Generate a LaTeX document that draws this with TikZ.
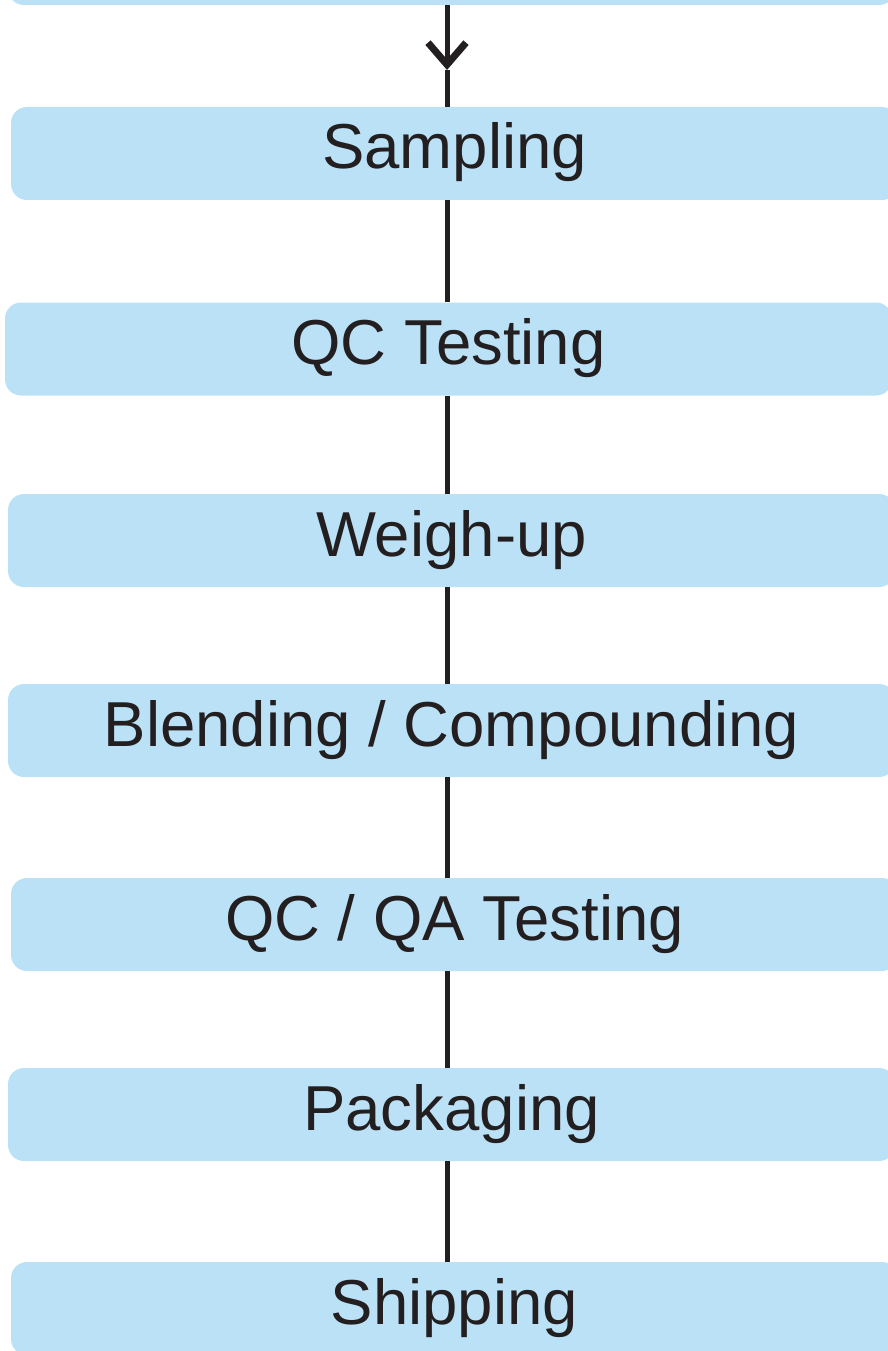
\documentclass[tikz,border=0pt]{standalone}
\usepackage{fontspec}
\setmainfont{Liberation Sans}
\usepackage{xcolor}
\usepackage{tikz}
\usetikzlibrary{arrows.meta}
\definecolor{boxblue}{RGB}{187,225,247}
\definecolor{lineblack}{RGB}{35,31,32}

\begin{document}
\begin{tikzpicture}[x=1pt, y=-1pt,
        stepbox/.style={rectangle, rounded corners=16pt, fill=boxblue, minimum width=887pt, minimum height=93pt, inner sep=0pt, text=lineblack, font=\fontsize{63.5}{63.5}\selectfont, text height=31pt, text depth=0pt},
        flow/.style={draw=lineblack, line width=5pt}]
        \useasboundingbox (0,0) rectangle (888,1351);

        % Define the nodes
        \node[stepbox] (top) at (451.5,-41.5) {};
        \node[stepbox] (sampling) at (454.5,153.5) {Sampling};
        \node[stepbox] (qctest) at (448.5,349) {QC Testing};
        \node[stepbox] (weighup) at (451.5,540.5) {Weigh-up};
        \node[stepbox] (blending) at (451.5,730.5) {Blending / Compounding};
        \node[stepbox] (qcqa) at (454.5,924.5) {QC / QA Testing};
        \node[stepbox] (packaging) at (451.5,1114.5) {Packaging};
        \node[stepbox] (shipping) at (454.5,1308.5) {Shipping};
        \coordinate (spine) at (447,0);
        \coordinate (tip) at (447,70);

        % Draw the arrows
        \draw[flow, -{Straight Barb[length=22pt, width=38pt, line width=7pt]}] (top.south -| spine) -- (tip);
        \draw[flow] (tip) -- (sampling.north -| spine);
        \foreach \a/\b in {sampling/qctest, qctest/weighup, weighup/blending, blending/qcqa, qcqa/packaging, packaging/shipping}
            \draw[flow] (\a.south -| spine) -- (\b.north -| spine);
    \end{tikzpicture}
\end{document}
